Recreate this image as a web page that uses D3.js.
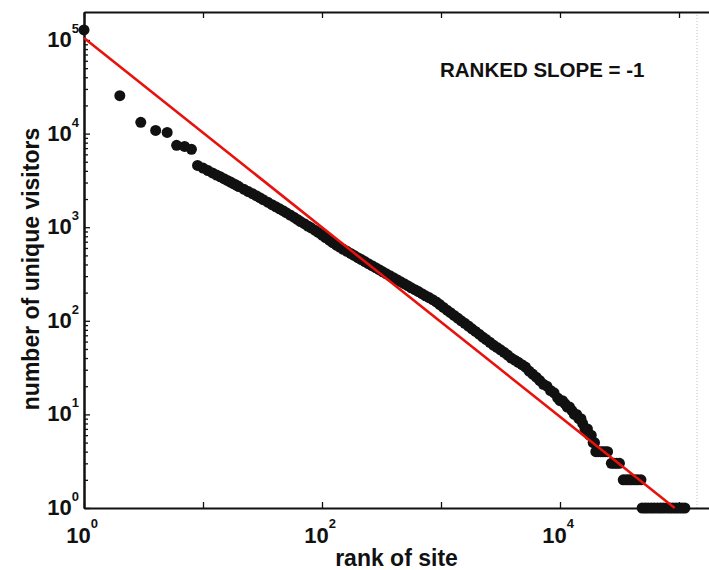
<!DOCTYPE html>
<html>
<head>
<meta charset="utf-8">
<script src="https://cdn.jsdelivr.net/npm/d3@7"></script>
<style>
  body { margin: 0; background: #fff; }
  text { font-family: "Liberation Sans", Arial, sans-serif; font-weight: bold; fill: #111; }
</style>
</head>
<body>
<div class="chart"></div>
<script>
// rank of site (x) and number of unique visitors (y)
var ranks = [1, 2, 3, 4, 5, 6, 7, 8, 9, 10, 11, 12, 13, 14, 15, 16, 17, 18, 19, 20,
  22, 24, 26, 28, 30, 32, 35, 38, 41, 44, 47, 50,
  54, 58, 62, 66, 71, 76, 81, 87, 93, 100,
  107, 115, 123, 132, 141, 151, 162, 174, 186, 200,
  214, 229, 245, 263, 282, 302, 324, 347, 372, 398,
  427, 457, 490, 525, 562, 603, 646, 692, 741, 794,
  851, 912, 977, 1047, 1122, 1202, 1288, 1380, 1479, 1585,
  1698, 1820, 1950, 2089, 2239, 2399, 2570, 2754, 2951, 3162,
  3388, 3631, 3890, 4169, 4467, 4786, 5129, 5495, 5888, 6310,
  6761, 7244, 7762, 8318, 8913, 9550,
  10000, 10500, 11000, 11500, 12000, 12600, 13200, 13800, 14400, 15000,
  15500, 16200, 17000, 17700, 18300, 19000, 19500, 20000, 21000, 22000,
  23000, 24000, 25100, 27000, 28500, 30000, 31600, 34000, 36000, 38000,
  40000, 42500, 45000, 47900, 49000, 52000, 55000, 58500, 62000, 66000,
  70000, 74000, 79000, 84000, 89000, 94500, 100000, 106000, 112000];

var visitors = [128000, 25400, 13200, 10800, 10300, 7500, 7300, 6800, 4570, 4280, 4030, 3800, 3610, 3450, 3300, 3160, 3040, 2920, 2820, 2720,
  2550, 2400, 2280, 2170, 2070, 1970, 1850, 1740, 1650, 1570, 1500, 1430,
  1350, 1280, 1210, 1150, 1090, 1030, 984, 929, 879, 823,
  776, 726, 684, 643, 611, 581, 552, 524, 499, 473,
  451, 429, 408, 388, 369, 352, 334, 318, 303, 289,
  275, 262, 249, 237, 225, 215, 205, 195, 185, 177,
  168, 159, 149, 139, 130, 122, 114, 107, 100, 94,
  88, 82, 77, 72, 67, 63, 59, 55, 52, 49,
  46, 43, 40, 38, 36, 34, 32, 29, 27, 25,
  23, 21, 20, 18, 17, 15,
  14, 14, 13, 12, 12, 11, 10, 10, 9, 9,
  8, 7, 7, 6, 6, 5, 5, 4, 4, 4,
  4, 4, 4, 3, 3, 3, 3, 2, 2, 2,
  2, 2, 2, 2, 1, 1, 1, 1, 1, 1,
  1, 1, 1, 1, 1, 1, 1, 1, 1];

// slope -1 reference line
var fitRank = [1, 92000];
var fitVisitors = [105000, 1];

// tick marks at every decade, labels only where the picture has them
var xDecades = [0, 1, 2, 3, 4, 5];
var xLabelDecades = [0, 2, 4];
var yDecades = [0, 1, 2, 3, 4, 5];
var titleText = "RANKED SLOPE = -1";

var svgWidth = 709;
var svgHeight = 570;

var margin = {
  top: 12,
  right: 0,
  bottom: 62,
  left: 84
};

var width = svgWidth - margin.left - margin.right;
var height = svgHeight - margin.top - margin.bottom;

var svg = d3
  .select(".chart")
  .append("svg")
  .attr("width", svgWidth)
  .attr("height", svgHeight);

var chartGroup = svg.append("g")
  .attr("transform", `translate(${margin.left}, ${margin.top})`);

// one decade is ~119px wide and ~93.6px tall
var xLogScale = d3.scaleLog()
  .domain([1, Math.pow(10, width / 119)])
  .range([0, width]);

var yLogScale = d3.scaleLog()
  .domain([1, Math.pow(10, height / 93.6)])
  .range([height, 0]);

var xMajor = xDecades.map(d => Math.pow(10, d));
var yMajor = yDecades.map(d => Math.pow(10, d));
var yMinor = [];
yDecades.forEach(function(d) {
  for (var m = 2; m <= 9; m++) {
    var v = m * Math.pow(10, d);
    if (v < yLogScale.domain()[1]) yMinor.push(v);
  }
});

// faint right border
chartGroup.append("line")
  .attr("x1", width - 12)
  .attr("x2", width - 12)
  .attr("y1", 0)
  .attr("y2", height)
  .attr("stroke", "#d4d4d4")
  .attr("stroke-width", 1.5)
  .attr("stroke-dasharray", "1,2");

// data points
chartGroup.selectAll("circle")
  .data(ranks)
  .enter()
  .append("circle")
  .attr("cx", d => xLogScale(d))
  .attr("cy", (d, i) => yLogScale(visitors[i]))
  .attr("r", 5.5)
  .attr("fill", "#111");

// axes (ticks point inward)
function styleAxis(g) {
  g.selectAll("path.domain").attr("stroke", "#111").attr("stroke-width", 2);
  g.selectAll(".tick line").attr("stroke", "#111").attr("stroke-width", 1.3);
  g.selectAll(".tick text").remove();
}

chartGroup.append("g")
  .attr("transform", `translate(0, ${height})`)
  .call(d3.axisBottom(xLogScale).tickValues(xMajor).tickSize(-6).tickSizeOuter(0))
  .call(styleAxis);

chartGroup.append("g")
  .call(d3.axisTop(xLogScale).tickValues(xMajor).tickSize(-6).tickSizeOuter(0))
  .call(styleAxis);

chartGroup.append("g")
  .call(d3.axisLeft(yLogScale).tickValues(yMinor).tickSize(-4).tickSizeOuter(0))
  .call(styleAxis);

chartGroup.append("g")
  .call(d3.axisLeft(yLogScale).tickValues(yMajor).tickSize(-6).tickSizeOuter(0))
  .call(styleAxis);

// fit line on top of the points
chartGroup.append("path")
  .datum(fitRank.map((r, i) => [r, fitVisitors[i]]))
  .attr("fill", "none")
  .attr("stroke", "#e8110c")
  .attr("stroke-width", 2.6)
  .attr("d", d3.line().x(d => xLogScale(d[0])).y(d => yLogScale(d[1])));

// tick labels as 10 with superscript exponent
var xLabels = chartGroup.append("g")
  .selectAll("text")
  .data(xLabelDecades)
  .enter()
  .append("text")
  .attr("x", d => xLogScale(Math.pow(10, d)) - 2)
  .attr("y", height + 35)
  .attr("text-anchor", "middle")
  .style("font-size", "22px");
xLabels.append("tspan").text("10");
xLabels.append("tspan")
  .attr("dy", -15)
  .style("font-size", "13px")
  .text(d => d);

var yLabels = chartGroup.append("g")
  .selectAll("text")
  .data(yDecades)
  .enter()
  .append("text")
  .attr("x", -5)
  .attr("y", d => yLogScale(Math.pow(10, d)) + 7)
  .attr("text-anchor", "end")
  .style("font-size", "22px");
yLabels.append("tspan").text("10");
yLabels.append("tspan")
  .attr("dy", -14)
  .style("font-size", "13px")
  .text(d => d);

// axis titles
svg.append("text")
  .attr("x", margin.left + width / 2)
  .attr("y", 566)
  .attr("text-anchor", "middle")
  .style("font-size", "23px")
  .text("rank of site");

svg.append("text")
  .attr("transform", "translate(39, 269) rotate(-90)")
  .attr("text-anchor", "middle")
  .style("font-size", "23px")
  .text("number of unique visitors");

svg.append("text")
  .attr("x", 440)
  .attr("y", 77)
  .style("font-size", "20.5px")
  .text(titleText);
</script>
</body>
</html>
